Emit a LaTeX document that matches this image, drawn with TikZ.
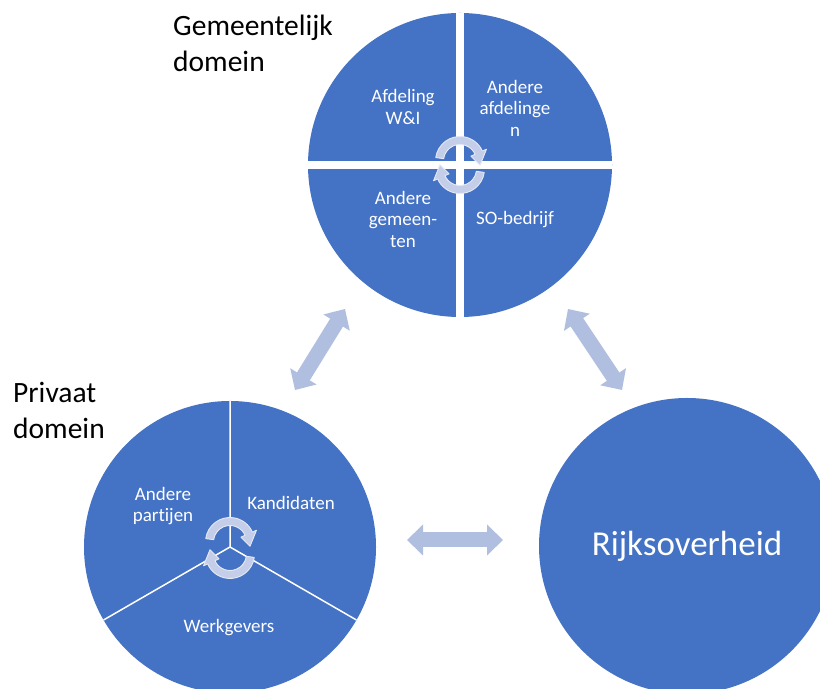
\documentclass[tikz,border=0pt]{standalone}
\usepackage{fontspec}
\setmainfont{Carlito}[Ligatures={NoCommon}]
\usetikzlibrary{arrows.meta}
\definecolor{ofblue}{HTML}{4472C4}
\definecolor{arrowc}{RGB}{176,190,223}
\definecolor{cycfill}{RGB}{196,206,232}
\definecolor{cycline}{RGB}{228,233,245}
\tikzset{
  dom/.style={circle, fill=ofblue, inner sep=0pt, outer sep=0pt},
  lbl/.style={text=white, font=\fontsize{19bp}{21.5bp}\selectfont, align=center, inner sep=0pt},
  ttl/.style={text=black, font=\fontsize{29.5bp}{36bp}\selectfont, align=left, inner sep=0pt, anchor=west},
  bigarrow/.style={draw=arrowc, line width=15bp, {Triangle[width=30bp,length=16bp]}-{Triangle[width=30bp,length=16bp]}},
  cycstyle/.style={fill=cycfill, draw=cycline, line width=0.9bp, line join=round}
}
\newcommand\cycarrow[4]{%
  \begin{scope}[shift={#1}]
    \filldraw[cycstyle] (#2:24.5bp) arc[start angle=#2, end angle=#3, radius=24.5bp]
      -- (#3:29bp) -- (#4:20.5bp) -- (#3:12bp) -- (#3:16.5bp)
      arc[start angle=#3, end angle=#2, radius=16.5bp] -- cycle;
  \end{scope}}
\begin{document}
\begin{tikzpicture}[x=1bp,y=1bp]
\clip (0,0) rectangle (820,689);
\fill[white] (0,0) rectangle (820,689);

% Gemeentelijk domein
\node[dom, minimum size=304bp] (gem) at (460,524) {};
\draw[white, line width=8bp] (gem.north) -- (gem.south) (gem.west) -- (gem.east);
\cycarrow{(460,528)}{172}{24}{-12}
\cycarrow{(460,520)}{-8}{-156}{-192}
\node[lbl] (wi) at (403,582) {Afdeling\\W\&I};
\node[lbl] (afd) at (515,581) {Andere\\afdelinge\\n};
\node[lbl] (gemn) at (403,470) {Andere\\gemeen-\\ten};
\node[lbl] (so) at (515,469) {SO-bedrijf};
\node[ttl] (tgem) at (173,646) {Gemeentelijk\\domein};

% Privaat domein
\node[dom, minimum size=292bp] (priv) at (230,142) {};
\draw[white, line width=1.5bp] (priv.center) -- (priv.90) (priv.center) -- (priv.210) (priv.center) -- (priv.330);
\cycarrow{(230,147)}{172}{24}{-12}
\cycarrow{(230,135)}{-8}{-156}{-192}
\node[lbl] (part) at (163,183) {Andere\\partijen};
\node[lbl] (kand) at (291,186) {Kandidaten};
\node[lbl] (werk) at (229,61) {Werkgevers};
\node[ttl] (tpriv) at (13,278.5) {Privaat\\domein};

% Rijksoverheid
\node[dom, minimum size=296bp, text=white, font=\fontsize{35bp}{42bp}\selectfont] (rijk) at (687,143) {Rijksoverheid};

% double arrows
\coordinate (la) at (295,299);
\coordinate (lb) at (345,380);
\coordinate (ra) at (568,380);
\coordinate (rb) at (622,299);
\coordinate (ha) at (407,149);
\coordinate (hb) at (503,149);
\draw[bigarrow] (la) -- (lb);
\draw[bigarrow] (ra) -- (rb);
\draw[bigarrow] (ha) -- (hb);
\end{tikzpicture}
\end{document}
